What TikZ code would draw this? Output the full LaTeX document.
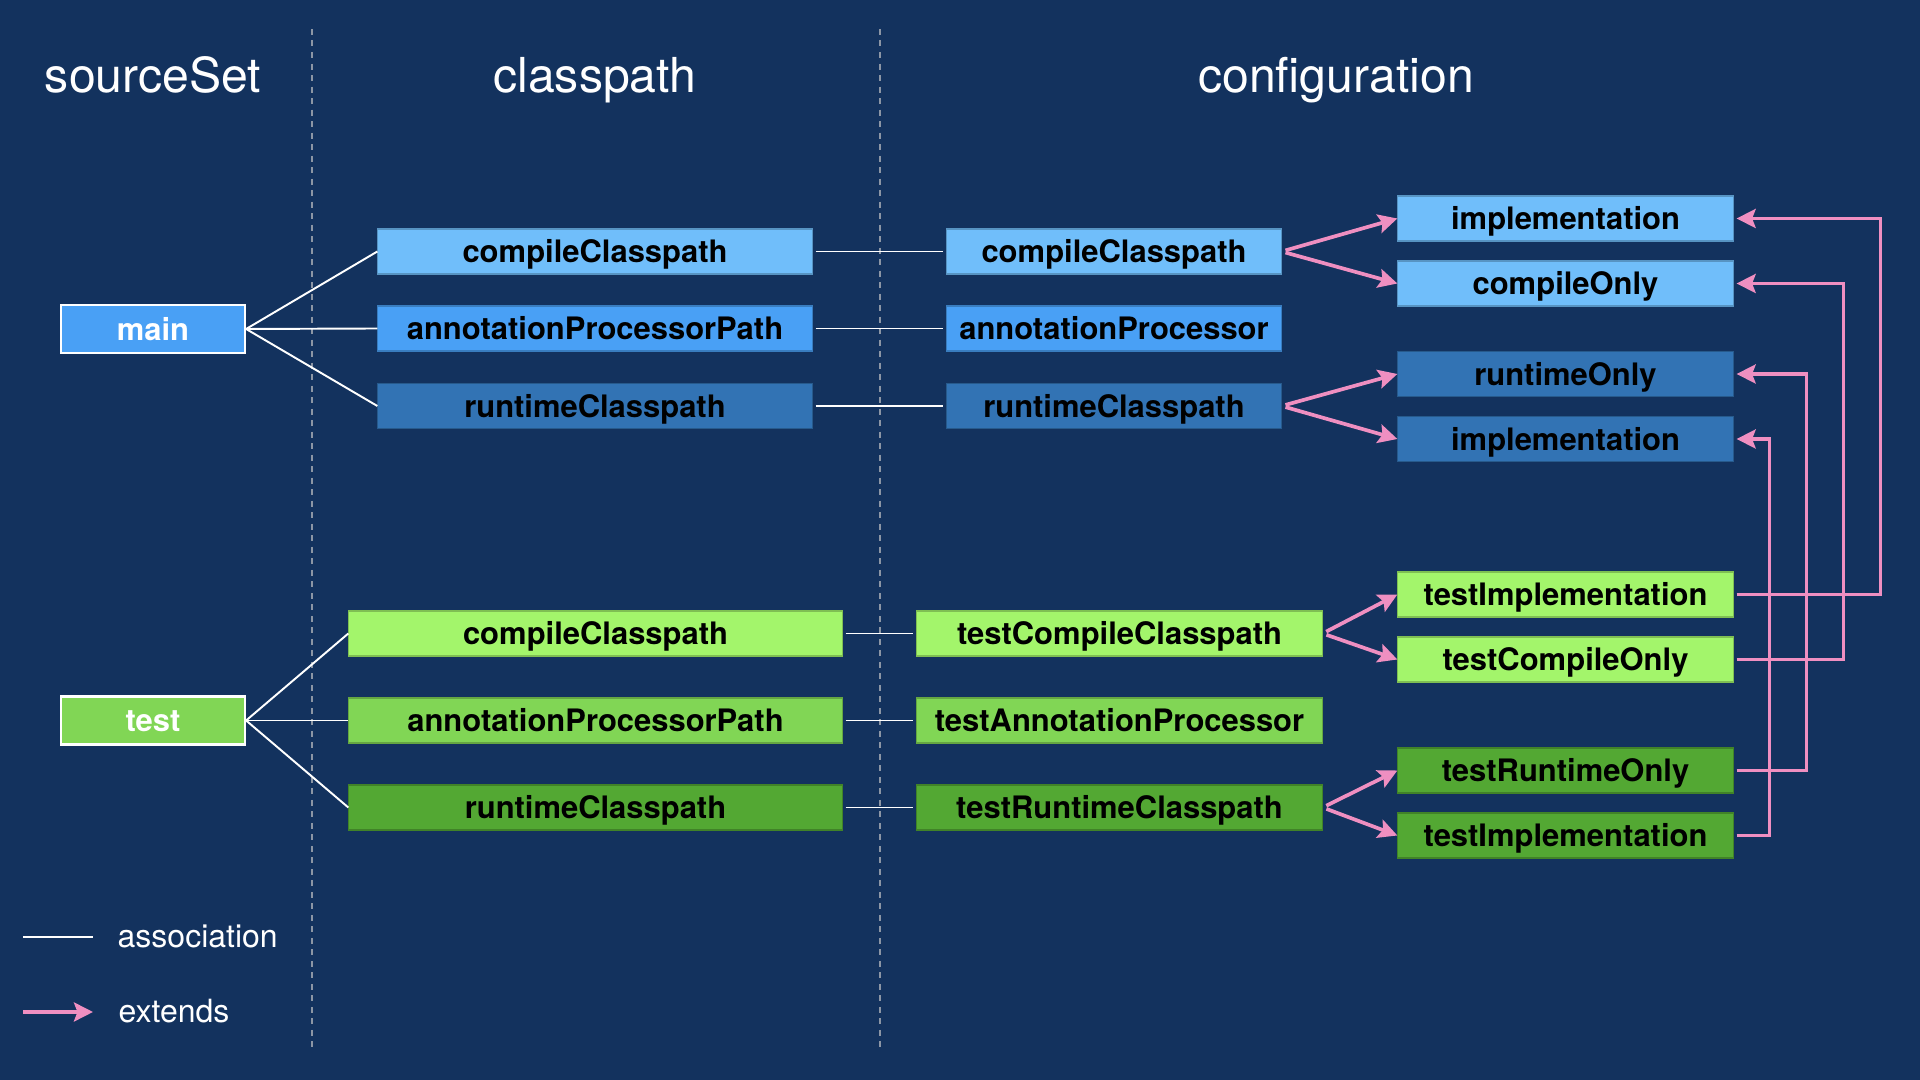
\documentclass[tikz,border=0pt]{standalone}
\usepackage{fontspec}
\setmainfont{TeX Gyre Heros}
\usetikzlibrary{arrows.meta}

\definecolor{bgnavy}{HTML}{13325E}
\definecolor{blueA}{HTML}{70BEFA}
\definecolor{blueB}{HTML}{49A0F5}
\definecolor{blueC}{HTML}{3273B4}
\definecolor{greenA}{HTML}{A3F56B}
\definecolor{greenB}{HTML}{81D655}
\definecolor{greenC}{HTML}{53A833}
\definecolor{pinkline}{HTML}{EF8FC1}
\definecolor{divider}{HTML}{8C96A5}

\begin{document}
\begin{tikzpicture}[x=0.01cm, y=-0.01cm,
    title/.style={text=white, anchor=base, inner sep=0pt, font=\fontsize{13.7}{16}\selectfont},
    legendtext/.style={text=white, anchor=base west, inner sep=0pt, font=\fontsize{9.1}{11}\selectfont},
    setbox/.style={fill=#1, draw=white, line width=0.6pt, minimum width=1.84cm,
        minimum height=0.48cm, inner sep=0pt, text=white,
        font=\bfseries\fontsize{8.8}{10}\selectfont, text height=6.3pt, text depth=0pt},
    cell/.style={fill=#1, draw=#1!78!black, line width=0.3pt, minimum height=0.45cm,
        inner sep=0pt, text=black, font=\bfseries\fontsize{8.8}{10}\selectfont,
        text height=6.3pt, text depth=0pt},
    assoc/.style={draw=white, line width=0.55pt},
    extends/.style={draw=pinkline, line width=1.05pt,
        -{Stealth[length=0.19cm,width=0.19cm,inset=0.035cm]}},
    divline/.style={draw=divider, line width=0.55pt, dash pattern=on 0.06cm off 0.055cm}]

    % Background
    \fill[bgnavy] (0,0) rectangle (1920,1080);
    \useasboundingbox (0,0) rectangle (1920,1080);

    % Column dividers
    \draw[divline] (312,29) -- (312,1050);
    \draw[divline] (880,29) -- (880,1050);

    % Column titles
    \node[title] (tsrc) at (153,93) {sourceSet};
    \node[title] (tcp) at (595,93) {classpath};
    \node[title] (tcfg) at (1336,93) {configuration};

    % main sourceSet
    \node[setbox=blueB] (main) at (153,329) {main};
    \node[cell=blueA, minimum width=4.34cm] (ccp) at (595,251.5) {compileClasspath};
    \node[cell=blueB, minimum width=4.34cm] (app) at (595,328.5) {annotationProcessorPath};
    \node[cell=blueC, minimum width=4.34cm] (rcp) at (595,406) {runtimeClasspath};
    \node[cell=blueA, minimum width=3.34cm] (cfgccp) at (1114,251.5) {compileClasspath};
    \node[cell=blueB, minimum width=3.34cm] (cfgap) at (1114,328.5) {annotationProcessor};
    \node[cell=blueC, minimum width=3.34cm] (cfgrcp) at (1114,406) {runtimeClasspath};
    \node[cell=blueA, minimum width=3.35cm] (impl) at (1565.5,218.5) {implementation};
    \node[cell=blueA, minimum width=3.35cm] (conly) at (1565.5,283.5) {compileOnly};
    \node[cell=blueC, minimum width=3.35cm] (ronly) at (1565.5,374) {runtimeOnly};
    \node[cell=blueC, minimum width=3.35cm] (rimpl) at (1565.5,439) {implementation};

    % test sourceSet
    \node[setbox=greenB] (test) at (153,720.5) {test};
    \node[cell=greenA, minimum width=4.93cm] (tccp) at (595.5,633.5) {compileClasspath};
    \node[cell=greenB, minimum width=4.93cm] (tapp) at (595.5,720.5) {annotationProcessorPath};
    \node[cell=greenC, minimum width=4.93cm] (trcp) at (595.5,807.5) {runtimeClasspath};
    \node[cell=greenA, minimum width=4.05cm] (tcfgccp) at (1119.5,633.5) {testCompileClasspath};
    \node[cell=greenB, minimum width=4.05cm] (tcfgap) at (1119.5,720.5) {testAnnotationProcessor};
    \node[cell=greenC, minimum width=4.05cm] (tcfgrcp) at (1119.5,807.5) {testRuntimeClasspath};
    \node[cell=greenA, minimum width=3.35cm] (timpl) at (1565.5,594.5) {testImplementation};
    \node[cell=greenA, minimum width=3.35cm] (tconly) at (1565.5,659.5) {testCompileOnly};
    \node[cell=greenC, minimum width=3.35cm] (tronly) at (1565.5,770.5) {testRuntimeOnly};
    \node[cell=greenC, minimum width=3.35cm] (trimpl) at (1565.5,835.5) {testImplementation};

    % Associations
    \draw[assoc] (main.east) -- (ccp.west);
    \draw[assoc] (main.east) -- (app.west);
    \draw[assoc] (main.east) -- (rcp.west);
    \draw[assoc] (test.east) -- (tccp.west);
    \draw[assoc] (test.east) -- (tapp.west);
    \draw[assoc] (test.east) -- (trcp.west);
    \draw[assoc, shorten <=0.03cm, shorten >=0.03cm] (ccp.east) -- (cfgccp.west);
    \draw[assoc, shorten <=0.03cm, shorten >=0.03cm] (app.east) -- (cfgap.west);
    \draw[assoc, shorten <=0.03cm, shorten >=0.03cm] (rcp.east) -- (cfgrcp.west);
    \draw[assoc, shorten <=0.03cm, shorten >=0.03cm] (tccp.east) -- (tcfgccp.west);
    \draw[assoc, shorten <=0.03cm, shorten >=0.03cm] (tapp.east) -- (tcfgap.west);
    \draw[assoc, shorten <=0.03cm, shorten >=0.03cm] (trcp.east) -- (tcfgrcp.west);

    % Extends fans
    \draw[extends, shorten <=0.04cm] (cfgccp.east) -- (impl.west);
    \draw[extends, shorten <=0.04cm] (cfgccp.east) -- (conly.west);
    \draw[extends, shorten <=0.04cm] (cfgrcp.east) -- (ronly.west);
    \draw[extends, shorten <=0.04cm] (cfgrcp.east) -- (rimpl.west);
    \draw[extends, shorten <=0.04cm] (tcfgccp.east) -- (timpl.west);
    \draw[extends, shorten <=0.04cm] (tcfgccp.east) -- (tconly.west);
    \draw[extends, shorten <=0.04cm] (tcfgrcp.east) -- (tronly.west);
    \draw[extends, shorten <=0.04cm] (tcfgrcp.east) -- (trimpl.west);

    % Test configurations extend main ones
    \draw[extends, shorten <=0.03cm, shorten >=0.03cm] (timpl.east) -- ++(147,0) |- (impl.east);
    \draw[extends, shorten <=0.03cm, shorten >=0.03cm] (tconly.east) -- ++(110,0) |- (conly.east);
    \draw[extends, shorten <=0.03cm, shorten >=0.03cm] (tronly.east) -- ++(73,0) |- (ronly.east);
    \draw[extends, shorten <=0.03cm, shorten >=0.03cm] (trimpl.east) -- ++(36,0) |- (rimpl.east);

    % Legend
    \coordinate (assocA) at (23,937);
    \coordinate (assocB) at (93,937);
    \draw[assoc] (assocA) -- (assocB);
    \node[legendtext] (lassoc) at (117,948) {association};
    \coordinate (extA) at (23,1012);
    \coordinate (extB) at (93,1012);
    \draw[extends] (extA) -- (extB);
    \node[legendtext] (lext) at (118,1023) {extends};
\end{tikzpicture}
\end{document}
